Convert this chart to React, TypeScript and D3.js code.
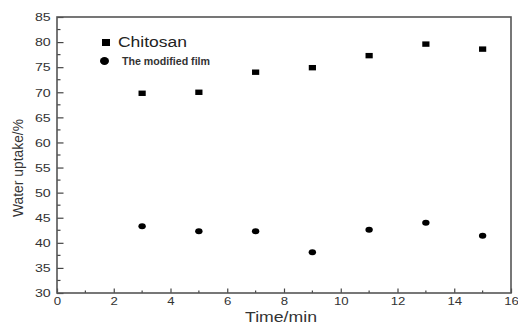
import React, { useEffect, useRef } from 'react';
import * as d3 from 'd3';

// values
const times = [3, 5, 7, 9, 11, 13, 15];
const chitosan = [69.8, 70.0, 74.0, 74.9, 77.3, 79.6, 78.6];
const modifiedFilm = [43.3, 42.3, 42.3, 38.1, 42.6, 44.0, 41.4];
const xTicks = [0, 2, 4, 6, 8, 10, 12, 14, 16];
const yTicks = [30, 35, 40, 45, 50, 55, 60, 65, 70, 75, 80, 85];
const seriesLabels = ['Chitosan', 'The modified film'];

export default function App() {
    const ref = useRef<SVGSVGElement>(null);

    useEffect(() => {
        const margin = { top: 17, right: 7, bottom: 31, left: 57 };
        const width = 518 - margin.left - margin.right;
        const height = 324 - margin.top - margin.bottom;
        const font = '"Liberation Sans", Arial, sans-serif';

        const root = d3.select(ref.current);
        root.selectAll('*').remove();

        const svg = root.append('g').attr('transform', 'translate(' + margin.left + ',' + margin.top + ')');

        const x = d3.scaleLinear().domain([0, 16]).range([0, width]);
        const y = d3.scaleLinear().domain([30, 85]).range([height, 0]);

        // minor ticks
        const xMinor = d3.range(1, 16, 2);
        svg.selectAll('.xminor')
            .data(xMinor)
            .enter()
            .append('line')
            .attr('x1', (d) => x(d))
            .attr('x2', (d) => x(d))
            .attr('y1', height)
            .attr('y2', height - 2.5)
            .attr('stroke', '#444')
            .attr('stroke-width', 1.2);
        const yMinor = d3.range(32.5, 85, 5);
        svg.selectAll('.yminor')
            .data(yMinor)
            .enter()
            .append('line')
            .attr('x1', 0)
            .attr('x2', 3.5)
            .attr('y1', (d) => y(d))
            .attr('y2', (d) => y(d))
            .attr('stroke', '#444')
            .attr('stroke-width', 1.2);

        const xAxis = svg
            .append('g')
            .attr('transform', 'translate(0,' + height + ')')
            .call(d3.axisBottom(x).tickValues(xTicks).tickSizeInner(-4.5).tickSizeOuter(0).tickPadding(4));
        const yAxis = svg
            .append('g')
            .call(d3.axisLeft(y).tickValues(yTicks).tickSizeInner(-6.5).tickSizeOuter(0).tickPadding(7));

        [xAxis, yAxis].forEach((a) => {
            a.select('.domain').remove();
            a.selectAll('line').attr('stroke', '#444').attr('stroke-width', 1.2);
            a.selectAll('text').attr('font-family', font).attr('fill', '#333');
        });
        // the picture is a little stretched sideways, so stretch the labels too
        xAxis.selectAll('text').attr('font-size', 11).attr('transform', 'scale(1.2,1)');
        yAxis
            .selectAll('text')
            .attr('font-size', 10.5)
            .attr('x', -6.3 / 1.35)
            .attr('dy', '0.36em')
            .attr('transform', 'scale(1.35,1)');

        // frame
        svg.append('rect')
            .attr('width', width)
            .attr('height', height)
            .attr('fill', 'none')
            .attr('stroke', '#555')
            .attr('stroke-width', 1.6);

        svg.selectAll('.sq')
            .data(times)
            .enter()
            .append('rect')
            .attr('x', (d) => x(d) - 3.6)
            .attr('y', (d, i) => y(chitosan[i]) - 2.7)
            .attr('width', 7.2)
            .attr('height', 5.4)
            .attr('fill', '#000');

        svg.selectAll('.dot')
            .data(times)
            .enter()
            .append('ellipse')
            .attr('cx', (d) => x(d))
            .attr('cy', (d, i) => y(modifiedFilm[i]))
            .attr('rx', 3.7)
            .attr('ry', 3)
            .attr('fill', '#000');

        // legend
        const lg = svg.append('g').attr('transform', 'translate(' + (106 - margin.left) + ',' + (42.5 - margin.top) + ')');
        lg.append('rect').attr('x', -4).attr('y', -3.5).attr('width', 8).attr('height', 7).attr('fill', '#000');
        lg.append('ellipse').attr('cx', -1.5).attr('cy', 18.5).attr('rx', 4.5).attr('ry', 4).attr('fill', '#000');
        lg.append('text')
            .attr('x', 12)
            .attr('y', 4.5)
            .attr('font-family', font)
            .attr('font-size', 14)
            .attr('textLength', 69)
            .attr('lengthAdjust', 'spacingAndGlyphs')
            .attr('fill', '#222')
            .text(seriesLabels[0]);
        lg.append('text')
            .attr('x', 16)
            .attr('y', 22)
            .attr('font-family', font)
            .attr('font-size', 10.5)
            .attr('font-weight', 'bold')
            .attr('textLength', 88)
            .attr('lengthAdjust', 'spacingAndGlyphs')
            .attr('fill', '#333')
            .text(seriesLabels[1]);

        svg.append('text')
            .attr('x', 281 - margin.left)
            .attr('y', height + 28.5)
            .attr('text-anchor', 'middle')
            .attr('font-family', font)
            .attr('font-size', 14)
            .attr('textLength', 72)
            .attr('lengthAdjust', 'spacingAndGlyphs')
            .attr('fill', '#333')
            .text('Time/min');

        svg.append('text')
            .attr('transform', 'translate(' + (23 - margin.left) + ',' + (168 - margin.top) + ') rotate(-90)')
            .attr('text-anchor', 'middle')
            .attr('font-family', font)
            .attr('font-size', 15)
            .attr('textLength', 98)
            .attr('lengthAdjust', 'spacingAndGlyphs')
            .attr('fill', '#333')
            .text('Water uptake/%');
    }, []);

    return <svg ref={ref} width={518} height={324} style={{ position: 'absolute', left: 0, top: 0 }} />;
}
